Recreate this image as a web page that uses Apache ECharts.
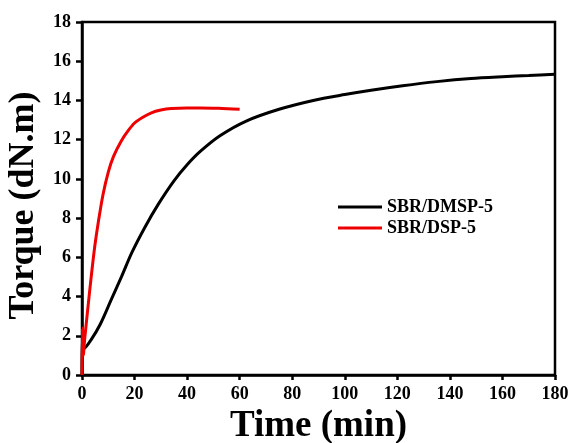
<!DOCTYPE html>
<html>
<head>
<meta charset="utf-8">
<script src="https://cdn.jsdelivr.net/npm/echarts@6/dist/echarts.min.js"></script>
<style>html,body{margin:0;padding:0;background:#fff}#c{width:571px;height:443px}</style>
</head>
<body>
<div id="c"></div>
<script>
const seriesNames = ['SBR/DMSP-5', 'SBR/DSP-5'];
const dmspTime = [0, 0.2, 0.8, 3.5, 7, 11, 15, 19, 24, 29, 35, 40, 45, 52.5, 62.5, 75, 88, 100, 110, 122, 135, 148, 160, 170, 180];
const dmspTorque = [0, 2.2, 1.35, 1.8, 2.6, 3.8, 5.0, 6.25, 7.55, 8.7, 9.9, 10.72, 11.4, 12.2, 12.95, 13.55, 14.0, 14.3, 14.52, 14.75, 14.96, 15.12, 15.21, 15.27, 15.33];
const dspTime = [0, 0.2, 0.5, 1, 2.3, 3.5, 4.8, 6.1, 8, 10, 12, 15, 17.5, 20, 23, 26.4, 30, 34, 40, 45, 52, 60];
const dspTorque = [0, 2.4, 1.0, 1.8, 3.5, 5.0, 6.5, 7.7, 9.2, 10.35, 11.15, 11.95, 12.45, 12.85, 13.13, 13.37, 13.51, 13.59, 13.62, 13.62, 13.6, 13.55];
const xTicks = {min: 0, max: 180, interval: 20};
const yTicks = {min: 0, max: 18, interval: 2};

const pair = (xs, ys) => xs.map((x, i) => [x, ys[i]]);
const font = 'Liberation Serif';
const chart = echarts.init(document.getElementById('c'), null, {renderer: 'canvas'});
chart.setOption({
  backgroundColor: '#ffffff',
  animation: false,
  grid: {left: 82, right: 16, top: 22, bottom: 68, containLabel: false, outerBoundsMode: 'none',
         show: true, borderColor: '#000', borderWidth: 2.5, backgroundColor: 'transparent'},
  legend: {
    orient: 'vertical', left: 333, top: 193, itemWidth: 44, itemHeight: 14, itemGap: 3,
    icon: 'path://M0,0 L44,0 L44,3 L0,3 Z',
    textStyle: {fontFamily: font, fontWeight: 'bold', fontSize: 18, color: '#000'},
    data: seriesNames
  },
  xAxis: {
    type: 'value', min: xTicks.min, max: xTicks.max, interval: xTicks.interval,
    name: 'Time (min)', nameLocation: 'middle', nameGap: 33,
    nameTextStyle: {fontFamily: font, fontWeight: 'bold', fontSize: 37, color: '#000'},
    axisLine: {lineStyle: {color: '#000', width: 2.5}},
    axisTick: {inside: false, length: 5, lineStyle: {color: '#000', width: 2.5}},
    axisLabel: {margin: 10, fontFamily: font, fontWeight: 'bold', fontSize: 18, color: '#000'},
    splitLine: {show: false}
  },
  yAxis: {
    type: 'value', min: yTicks.min, max: yTicks.max, interval: yTicks.interval,
    name: 'Torque (dN.m)', nameLocation: 'middle', nameGap: 35,
    nameTextStyle: {fontFamily: font, fontWeight: 'bold', fontSize: 36, color: '#000', padding: [0, 14, 0, 0]},
    axisLine: {lineStyle: {color: '#000', width: 2.5}},
    axisTick: {inside: false, length: 6, lineStyle: {color: '#000', width: 2.5}},
    axisLabel: {margin: 11, fontFamily: font, fontWeight: 'bold', fontSize: 18, color: '#000'},
    splitLine: {show: false}
  },
  series: [
    {name: seriesNames[0], type: 'line', data: pair(dmspTime, dmspTorque), showSymbol: false, smooth: 0.3,
     lineStyle: {color: '#000', width: 3}, itemStyle: {color: '#000'}},
    {name: seriesNames[1], type: 'line', data: pair(dspTime, dspTorque), showSymbol: false, smooth: 0.3,
     lineStyle: {color: '#ee0000', width: 3}, itemStyle: {color: '#ee0000'}}
  ]
});
</script>
</body>
</html>
